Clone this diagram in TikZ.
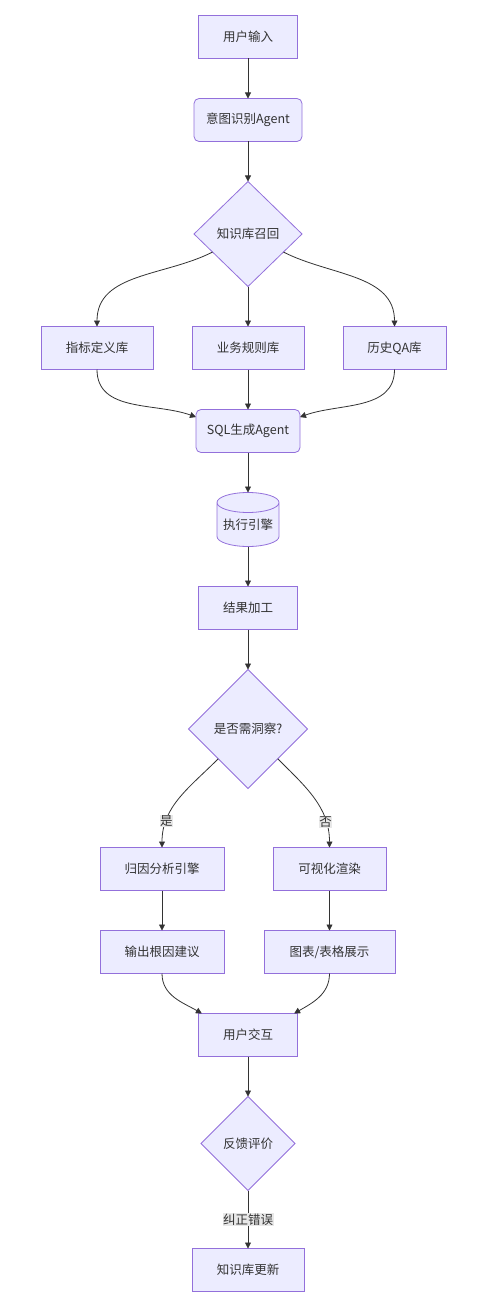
\documentclass[tikz,border=0pt]{standalone}
\usepackage{fontspec}
\setmainfont{Noto Sans CJK SC}
\usetikzlibrary{arrows.meta,shapes,positioning}
\definecolor{boxfill}{HTML}{ECECFF}
\definecolor{boxline}{HTML}{9370DB}
\definecolor{edgeline}{HTML}{333333}
\definecolor{lblfill}{HTML}{E8E8E8}
\tikzset{
  basic/.style  = {draw=boxline, fill=boxfill, text=edgeline, line width=0.8pt,
                   font=\fontsize{12.5}{15}\selectfont, inner sep=0pt, outer sep=0pt},
  proc/.style   = {basic, rectangle, minimum height=43pt},
  agent/.style  = {proc, rounded corners=5pt},
  choice/.style = {basic, diamond},
  store/.style  = {basic, cylinder, shape border rotate=90, aspect=0.4,
                   minimum width=62pt, minimum height=54pt},
  lbl/.style    = {fill=lblfill, text=edgeline, inner sep=0.5pt,
                   font=\fontsize{12.5}{15}\selectfont},
  link/.style   = {->, draw=edgeline, line width=0.8pt}
}
\begin{document}
\begin{tikzpicture}[x=1pt, y=-1pt, node distance=40pt,
    >={Triangle[length=6pt,width=6pt]}]
  \useasboundingbox (0,0) rectangle (491,1305);

  % main column, from the question to the recall
  \node[proc, minimum width=99pt] (input) at (248,37) {用户输入};
  \node[agent, minimum width=108pt, below=of input] (intent) {意图识别Agent};
  \node[choice, minimum width=108pt, minimum height=105pt, below=of intent] (recall) {知识库召回};

  % the three knowledge bases
  \node[proc, minimum width=112pt, below=of recall] (rule) {业务规则库};
  \node[proc, minimum width=112pt, left=39pt of rule] (metric) {指标定义库};
  \node[proc, minimum width=103pt, right=39pt of rule] (qa) {历史QA库};

  % query generation and execution
  \node[agent, minimum width=104pt, below=of rule] (sql) {SQL生成Agent};
  \node[store, below=of sql] (engine) {执行引擎};
  \node[proc, minimum width=99pt, below=of engine] (result) {结果加工};
  \node[choice, minimum width=119pt, minimum height=119pt, below=of result] (insight) {是否需洞察?};

  % the two branches
  \node[proc, minimum width=124pt, below=59pt of insight, xshift=-86pt] (attr) {归因分析引擎};
  \node[proc, minimum width=124pt, below=of attr] (advice) {输出根因建议};
  \node[proc, minimum width=113pt, below=59pt of insight, xshift=81.5pt] (render) {可视化渲染};
  \node[proc, minimum width=131pt, below=of render] (chart) {图表/表格展示};

  % feedback loop
  \node[proc, minimum width=99pt, below=of advice, xshift=86pt] (ui) {用户交互};
  \node[choice, minimum width=94pt, minimum height=94pt, below=of ui] (feedback) {反馈评价};
  \node[proc, minimum width=112pt, below=58pt of feedback] (update) {知识库更新};

  % straight connectors
  \foreach \from/\to in {input/intent, intent/recall, recall/rule, rule/sql,
      sql/engine, engine/result, result/insight, attr/advice, render/chart, ui/feedback}
    \draw[link] (\from) -- (\to);

  % curved connectors
  \draw[link] (recall) to[out=207, in=90] (metric);
  \draw[link] (recall) to[out=-27, in=90] (qa);
  \draw[link] (metric) to[out=-90, in=160] (sql.165);
  \draw[link] (qa) to[out=-90, in=20] (sql.15);

  \draw[link] (insight) to[out=225, in=90] node[lbl, pos=0.76] {是} (attr);
  \draw[link] (insight) to[out=-45, in=90] node[lbl, pos=0.76] {否} (render);

  \draw[link] (advice) to[out=-90, in=150] (ui.155);
  \draw[link] (chart) to[out=-90, in=30] (ui.25);

  \draw[link] (feedback) -- node[lbl] {纠正错误} (update);
\end{tikzpicture}
\end{document}
